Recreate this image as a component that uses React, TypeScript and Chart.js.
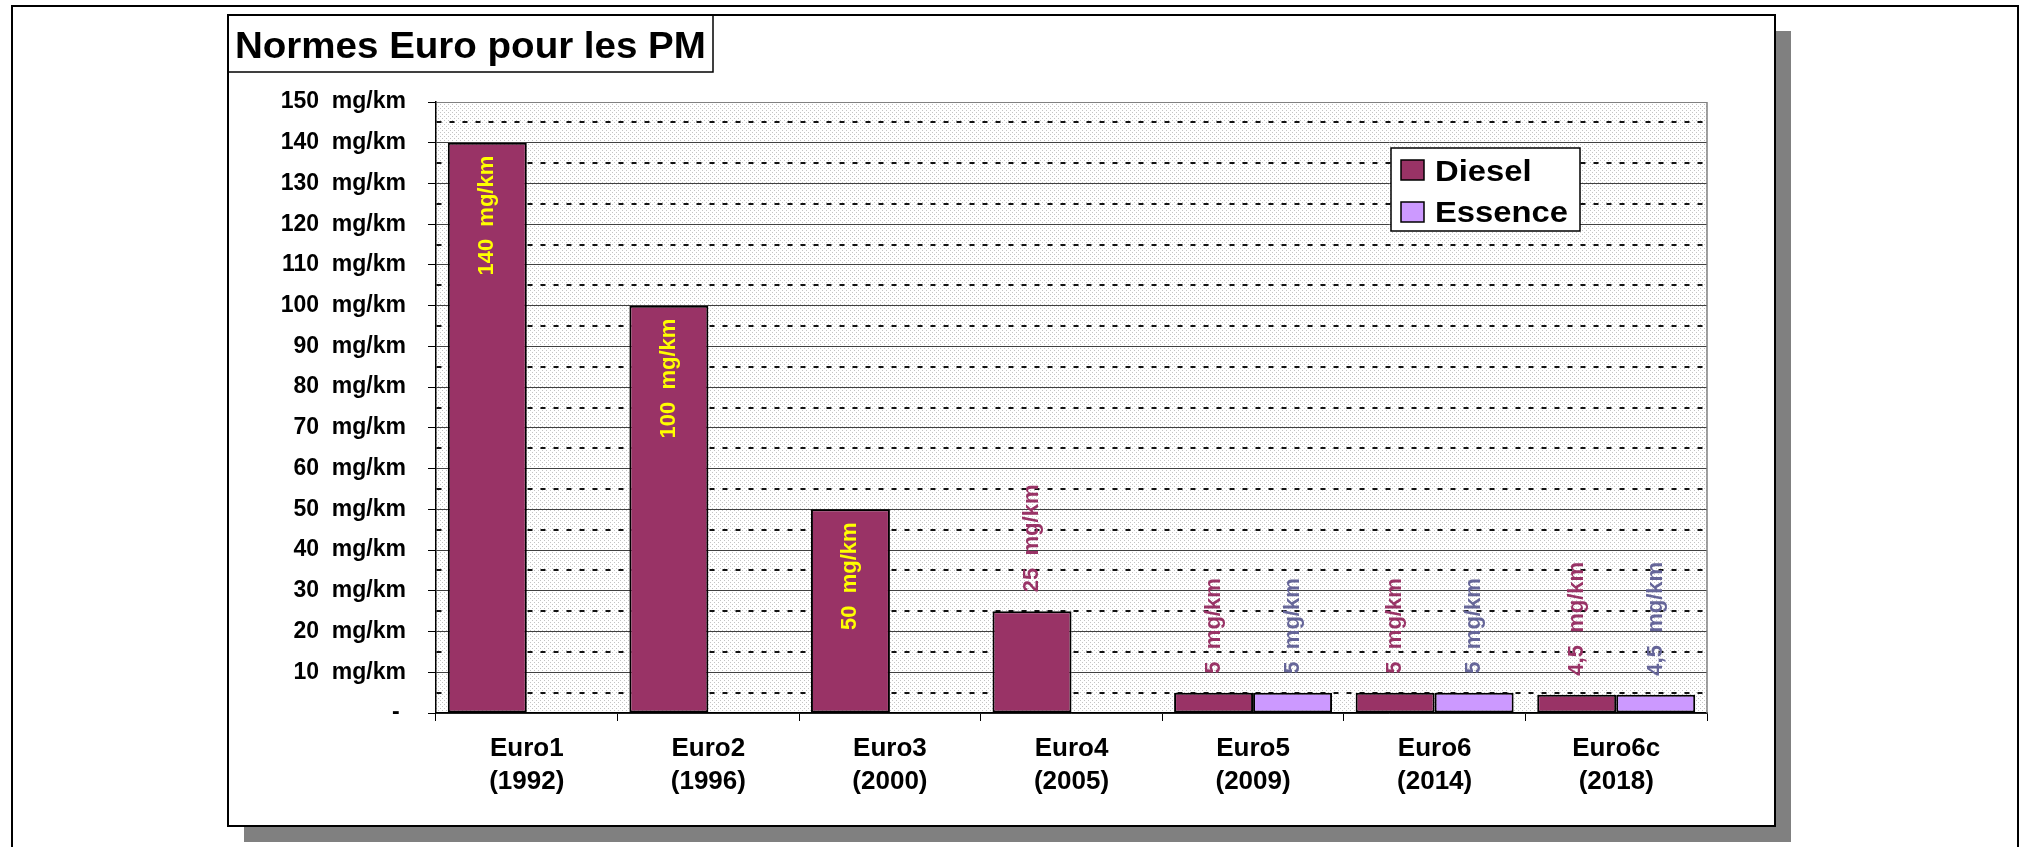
import React, { useEffect, useRef } from 'react';
import { Chart, registerables } from 'chart.js';

Chart.register(...registerables);

const TITLE = 'Normes Euro pour les PM';
const CATEGORIES: string[][] = [
  ['Euro1', '(1992)'],
  ['Euro2', '(1996)'],
  ['Euro3', '(2000)'],
  ['Euro4', '(2005)'],
  ['Euro5', '(2009)'],
  ['Euro6', '(2014)'],
  ['Euro6c', '(2018)'],
];
const SERIES_NAMES = ['Diesel', 'Essence'];
const DIESEL: (number | null)[] = [140, 100, 50, 25, 5, 5, 4.5];
const ESSENCE: (number | null)[] = [null, null, null, null, 5, 5, 4.5];
const UNIT = 'mg/km';
const Y_MIN = 0;
const Y_MAX = 150;
const Y_LABEL_STEP = 10;
const Y_MINOR_STEP = 5;

const FONT = "'Liberation Sans', Arial, Helvetica, sans-serif";
const FILL_COLORS = ['#993366', '#CC99FF'];
const LABEL_COLORS = ['#993366', '#666699'];
const INSIDE_LABEL_COLOR = '#FFFF00';

const fmtNum = (v: number) => String(v).replace('.', ',');
const fmtTick = (v: number) => (v === 0 ? '- ' : `${v}  ${UNIT}`);
const fmtLabel = (v: number) => `${fmtNum(v)}  ${UNIT}`;
const isMajor = (v: number) => Math.abs(v % Y_LABEL_STEP) < 1e-9;

function makePattern(ctx: CanvasRenderingContext2D): CanvasPattern | string {
  const tile = document.createElement('canvas');
  tile.width = 4;
  tile.height = 4;
  const t = tile.getContext('2d');
  if (!t) return '#f0f0f0';
  t.fillStyle = '#ffffff';
  t.fillRect(0, 0, 4, 4);
  t.fillStyle = '#c4c4c4';
  t.fillRect(0, 0, 1, 1);
  t.fillRect(2, 2, 1, 1);
  return ctx.createPattern(tile, 'repeat') || '#f0f0f0';
}

const framePlugin = {
  id: 'frameDecor',
  beforeDraw(chart: any) {
    const ctx: CanvasRenderingContext2D = chart.ctx;
    ctx.save();
    ctx.fillStyle = '#ffffff';
    ctx.fillRect(0, 0, chart.width, chart.height);
    // outer page border
    ctx.strokeStyle = '#000';
    ctx.lineWidth = 2;
    ctx.beginPath();
    ctx.moveTo(12, 900);
    ctx.lineTo(12, 6);
    ctx.lineTo(2018, 6);
    ctx.lineTo(2018, 900);
    ctx.stroke();
    // chart frame shadow
    ctx.fillStyle = '#808080';
    ctx.fillRect(244, 31, 1791 - 244, 842 - 31);
    // chart frame
    ctx.fillStyle = '#ffffff';
    ctx.fillRect(228, 15, 1775 - 228, 826 - 15);
    ctx.strokeStyle = '#000';
    ctx.lineWidth = 2;
    ctx.strokeRect(228, 15, 1775 - 228, 826 - 15);
    // title box
    ctx.lineWidth = 1.5;
    ctx.strokeRect(228, 15, 713 - 228, 72 - 15);
    ctx.fillStyle = '#000';
    ctx.font = `bold 36px ${FONT}`;
    ctx.textAlign = 'left';
    ctx.textBaseline = 'alphabetic';
    ctx.translate(235, 58);
    ctx.scale(1.07, 1);
    ctx.fillText(TITLE, 0, 0);
    ctx.restore();
    // plot background
    const { left, top, right, bottom } = chart.chartArea;
    ctx.save();
    ctx.fillStyle = makePattern(ctx);
    ctx.fillRect(left, top, right - left, bottom - top);
    ctx.restore();
  },
};

const labelsPlugin = {
  id: 'barLabels',
  afterDatasetsDraw(chart: any) {
    const ctx: CanvasRenderingContext2D = chart.ctx;
    const { right, top, bottom } = chart.chartArea;
    ctx.save();
    // plot area right border
    ctx.strokeStyle = '#808080';
    ctx.lineWidth = 1.5;
    ctx.beginPath();
    ctx.moveTo(right, top);
    ctx.lineTo(right, bottom);
    ctx.stroke();
    ctx.font = `bold 22px ${FONT}`;
    ctx.textBaseline = 'middle';
    chart.data.datasets.forEach((ds: any, i: number) => {
      const meta = chart.getDatasetMeta(i);
      ds.data.forEach((v: number | null, j: number) => {
        if (v === null || v === undefined) return;
        const el = meta.data[j];
        const { x, y, base } = el.getProps(['x', 'y', 'base'], true);
        const text = fmtLabel(v);
        const w = ctx.measureText(text).width;
        const h = base - y;
        ctx.save();
        if (h > w + 30) {
          ctx.fillStyle = INSIDE_LABEL_COLOR;
          ctx.translate(x, y + 13);
          ctx.rotate(-Math.PI / 2);
          ctx.textAlign = 'right';
        } else {
          ctx.fillStyle = LABEL_COLORS[i];
          ctx.translate(x, y - 19);
          ctx.rotate(-Math.PI / 2);
          ctx.textAlign = 'left';
        }
        ctx.fillText(text, 0, 0);
        ctx.restore();
      });
    });
    ctx.restore();
  },
  afterDraw(chart: any) {
    const ctx: CanvasRenderingContext2D = chart.ctx;
    ctx.save();
    // legend box
    const bx = 1391, by = 148, bw = 189, bh = 83;
    ctx.fillStyle = '#ffffff';
    ctx.fillRect(bx, by, bw, bh);
    ctx.strokeStyle = '#000';
    ctx.lineWidth = 1.5;
    ctx.strokeRect(bx, by, bw, bh);
    const rows = [
      { sy: 160, base: 181 },
      { sy: 202, base: 222 },
    ];
    chart.data.datasets.forEach((ds: any, i: number) => {
      const r = rows[i];
      ctx.fillStyle = ds.backgroundColor;
      ctx.fillRect(1401, r.sy, 23, 20);
      ctx.strokeStyle = '#000';
      ctx.lineWidth = 1.5;
      ctx.strokeRect(1401, r.sy, 23, 20);
      ctx.save();
      ctx.fillStyle = '#000';
      ctx.font = `bold 29px ${FONT}`;
      ctx.textAlign = 'left';
      ctx.textBaseline = 'alphabetic';
      ctx.translate(1435, r.base);
      ctx.scale(1.13, 1);
      ctx.fillText(ds.label, 0, 0);
      ctx.restore();
    });
    ctx.restore();
  },
};

export default function App() {
  const ref = useRef<HTMLCanvasElement>(null);
  useEffect(() => {
    const canvas = ref.current;
    if (!canvas) return;
    const chart = new Chart(canvas, {
      type: 'bar',
      data: {
        labels: CATEGORIES,
        datasets: [
          {
            label: SERIES_NAMES[0],
            data: DIESEL,
            backgroundColor: FILL_COLORS[0],
            borderColor: '#000',
            borderWidth: 2,
            borderSkipped: false,
          },
          {
            label: SERIES_NAMES[1],
            data: ESSENCE,
            backgroundColor: FILL_COLORS[1],
            borderColor: '#000',
            borderWidth: 2,
            borderSkipped: false,
          },
        ],
      },
      options: {
        animation: false,
        responsive: false,
        devicePixelRatio: 1,
        categoryPercentage: 0.87,
        barPercentage: 1.0,
        layout: { padding: { left: 228, right: 313, top: 102, bottom: 0 } },
        plugins: {
          legend: { display: false },
          title: { display: false },
          tooltip: { enabled: false },
        },
        scales: {
          x: {
            type: 'category',
            afterFit: (s: any) => {
              s.height = 134;
            },
            grid: {
              offset: true,
              drawOnChartArea: false,
              drawTicks: true,
              tickLength: 8,
              tickColor: '#000',
              tickWidth: 1,
              color: '#000',
            },
            border: { display: true, color: '#000', width: 1.5 },
            ticks: {
              autoSkip: false,
              maxRotation: 0,
              minRotation: 0,
              padding: 11,
              color: '#000',
              font: { family: FONT, size: 26, weight: 'bold', lineHeight: 1.27 },
            },
          },
          y: {
            type: 'linear',
            min: Y_MIN,
            max: Y_MAX,
            afterFit: (s: any) => {
              s.width = 208;
            },
            grid: {
              drawTicks: true,
              tickLength: 8,
              tickWidth: 1,
              color: (c: any) => {
                const v = c.tick ? c.tick.value : 0;
                if (!isMajor(v)) return '#111111';
                if (v === Y_MAX) return '#808080';
                return '#404040';
              },
              lineWidth: (c: any) => {
                const v = c.tick ? c.tick.value : 0;
                return isMajor(v) ? 1 : 2;
              },
              tickColor: (c: any) => {
                const v = c.tick ? c.tick.value : 0;
                return isMajor(v) ? '#000' : 'rgba(0,0,0,0)';
              },
            },
            border: {
              display: true,
              color: '#000',
              width: 1.5,
              dash: (c: any) => {
                const v = c.tick ? c.tick.value : 0;
                return isMajor(v) ? [] : [5, 8];
              },
            },
            ticks: {
              stepSize: Y_MINOR_STEP,
              autoSkip: false,
              padding: 22,
              color: '#000',
              font: { family: FONT, size: 23, weight: 'bold' },
              callback: (v: any) => (isMajor(Number(v)) ? fmtTick(Number(v)) : ''),
            },
          },
        },
      } as any,
      plugins: [framePlugin, labelsPlugin],
    });
    return () => chart.destroy();
  }, []);
  return (
    <div style={{ position: 'fixed', left: 0, top: 0, width: 2020, height: 847, background: '#fff' }}>
      <canvas ref={ref} width={2020} height={847} style={{ display: 'block', width: 2020, height: 847 }} />
    </div>
  );
}
